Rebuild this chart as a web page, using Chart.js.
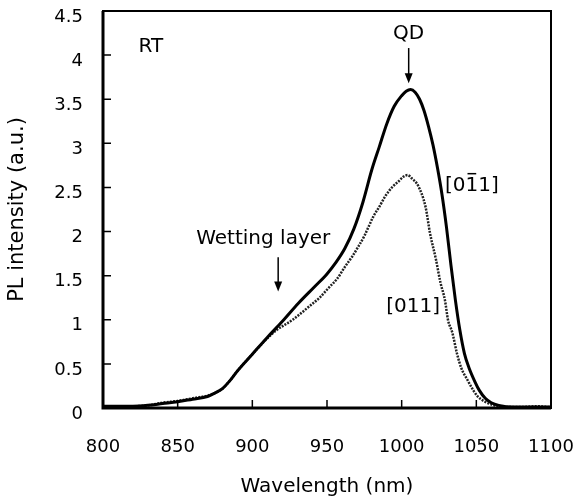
<!DOCTYPE html>
<html>
<head>
<meta charset="utf-8">
<script src="https://cdn.jsdelivr.net/npm/chart.js@4"></script>
<style>
  html, body { margin: 0; padding: 0; background: #fff; }
  #wrap { width: 581px; height: 499px; }
</style>
</head>
<body>
<div id="wrap"><canvas id="plChart"></canvas></div>
<script>
// PL spectra at room temperature, two polarizations
const wlThick = [800, 810, 820, 830, 840, 850, 860, 870, 875, 880, 885, 890, 900, 910, 920, 931, 942, 950, 956, 962, 968, 974, 980, 985, 990, 995, 1000, 1003, 1006, 1009, 1012, 1015, 1018, 1021, 1024, 1027, 1030, 1033, 1036, 1039, 1042, 1045, 1049, 1052, 1056, 1060, 1065, 1075, 1090, 1100];
const plThick = [0.02, 0.02, 0.02, 0.03, 0.05, 0.07, 0.10, 0.13, 0.17, 0.22, 0.31, 0.42, 0.61, 0.80, 0.98, 1.19, 1.38, 1.52, 1.65, 1.81, 2.03, 2.33, 2.70, 2.96, 3.22, 3.42, 3.54, 3.59, 3.61, 3.58, 3.50, 3.37, 3.19, 2.98, 2.72, 2.42, 2.05, 1.62, 1.22, 0.88, 0.62, 0.46, 0.30, 0.20, 0.11, 0.06, 0.03, 0.01, 0.01, 0.01];

const wlThin = [800, 810, 820, 830, 840, 850, 860, 870, 875, 880, 885, 890, 900, 910, 916, 927, 938, 945, 951, 957, 962, 967, 971, 975, 978, 981, 985, 989, 994, 998, 1001, 1004, 1007, 1011, 1016, 1019, 1023, 1026, 1029, 1031, 1034, 1037, 1040, 1044, 1048, 1051, 1056, 1062, 1070, 1080, 1090, 1100];
const plThin = [0.02, 0.02, 0.02, 0.03, 0.06, 0.08, 0.11, 0.14, 0.17, 0.22, 0.31, 0.42, 0.61, 0.79, 0.88, 1.00, 1.15, 1.25, 1.36, 1.47, 1.60, 1.72, 1.83, 1.95, 2.06, 2.17, 2.28, 2.40, 2.51, 2.57, 2.62, 2.64, 2.60, 2.52, 2.28, 1.98, 1.68, 1.42, 1.22, 1.00, 0.85, 0.62, 0.45, 0.32, 0.20, 0.13, 0.07, 0.03, 0.01, 0.01, 0.02, 0.01];

const xTicks = [800, 850, 900, 950, 1000, 1050, 1100];
const yTicks = [0, 0.5, 1, 1.5, 2, 2.5, 3, 3.5, 4, 4.5];

const FONT = "'DejaVu Sans', sans-serif";

// frame, inward ticks, labels and arrows
const decorPlugin = {
    id: "decor",
    afterDatasetsDraw(chart) {
        const { ctx, chartArea: a, scales } = chart;
        const xs = scales.x, ys = scales.y;
        ctx.save();
        ctx.strokeStyle = "#000";
        ctx.lineWidth = 2;
        ctx.strokeRect(a.left, a.top, a.right - a.left, a.bottom - a.top);
        ctx.lineWidth = 3;
        ctx.beginPath();
        ctx.moveTo(a.left, a.top);
        ctx.lineTo(a.left, a.bottom);
        ctx.lineTo(a.right, a.bottom);
        ctx.stroke();

        ctx.lineWidth = 1.5;
        ctx.beginPath();
        xTicks.slice(1, -1).forEach((v) => {
            const px = xs.getPixelForValue(v);
            ctx.moveTo(px, a.bottom);
            ctx.lineTo(px, a.bottom - 8);
        });
        yTicks.slice(1, -1).forEach((v) => {
            const py = ys.getPixelForValue(v);
            ctx.moveTo(a.left, py);
            ctx.lineTo(a.left + 8, py);
        });
        ctx.stroke();

        ctx.fillStyle = "#000";
        ctx.font = "20px " + FONT;
        ctx.textAlign = "center";
        ctx.textBaseline = "middle";
        const at = (nm, v) => [xs.getPixelForValue(nm), ys.getPixelForValue(v)];

        let p = at(832, 4.09);
        ctx.fillText("RT", p[0], p[1]);
        p = at(1004.7, 4.24);
        ctx.fillText("QD", p[0], p[1]);
        p = at(907.3, 1.92);
        ctx.fillText("Wetting layer", p[0], p[1]);
        p = at(1007.7, 1.15);
        ctx.fillText("[011]", p[0], p[1]);

        // [0 1bar 1]
        p = at(1047, 2.52);
        const s = "[011]";
        const w = ctx.measureText(s).width;
        ctx.fillText(s, p[0], p[1]);
        const x0 = p[0] - w / 2 + ctx.measureText("[0").width;
        const x1 = p[0] - w / 2 + ctx.measureText("[01").width;
        ctx.lineWidth = 1.5;
        ctx.beginPath();
        ctx.moveTo(x0 + 2, p[1] - 12);
        ctx.lineTo(x1 - 2, p[1] - 12);
        ctx.stroke();

        const arrow = (nm, v0, v1) => {
            const [ax, ay0] = at(nm, v0);
            const ay1 = ys.getPixelForValue(v1);
            ctx.lineWidth = 1.5;
            ctx.beginPath();
            ctx.moveTo(ax, ay0);
            ctx.lineTo(ax, ay1 - 8);
            ctx.stroke();
            ctx.beginPath();
            ctx.moveTo(ax - 4, ay1 - 10);
            ctx.lineTo(ax + 4, ay1 - 10);
            ctx.lineTo(ax, ay1);
            ctx.closePath();
            ctx.fill();
        };
        arrow(1004.7, 4.08, 3.68);
        arrow(917.3, 1.71, 1.32);
        ctx.restore();
    },
};

const noPad = (axis) => {
    axis.paddingTop = 0;
    axis.paddingBottom = 0;
    axis.paddingLeft = 0;
    axis.paddingRight = 0;
};

const ctx = document.getElementById("plChart").getContext("2d");
new Chart(ctx, {
    type: "line",
    data: {
        datasets: [
            {
                label: "[0-11]",
                data: wlThick.map((x, i) => ({ x: x, y: plThick[i] })),
                borderColor: "#000",
                borderWidth: 3,
                pointRadius: 0,
                cubicInterpolationMode: "monotone",
            },
            {
                label: "[011]",
                data: wlThin.map((x, i) => ({ x: x, y: plThin[i] })),
                borderColor: "#222",
                borderWidth: 2.5,
                borderDash: [2, 1.2],
                pointRadius: 0,
                cubicInterpolationMode: "monotone",
            },
        ],
    },
    plugins: [decorPlugin],
    options: {
        responsive: true,
        maintainAspectRatio: false,
        animation: false,
        layout: { padding: { left: 0, top: 11, right: 30, bottom: 0 } },
        plugins: { legend: { display: false }, tooltip: { enabled: false } },
        scales: {
            x: {
                type: "linear",
                min: 800,
                max: 1100,
                afterBuildTicks: (axis) => { axis.ticks = xTicks.map((v) => ({ value: v })); },
                afterFit: (axis) => { axis.height = 91; noPad(axis); },
                grid: { display: false, drawTicks: false },
                border: { display: false },
                ticks: {
                    color: "#000",
                    padding: 29,
                    maxRotation: 0,
                    font: { family: FONT, size: 18 },
                    callback: (v) => String(v),
                },
                title: {
                    display: true,
                    text: "Wavelength (nm)",
                    color: "#000",
                    font: { family: FONT, size: 20 },
                    padding: { top: 3, bottom: 0 },
                },
            },
            y: {
                min: 0,
                max: 4.5,
                afterBuildTicks: (axis) => { axis.ticks = yTicks.map((v) => ({ value: v })); },
                afterFit: (axis) => { axis.width = 103; noPad(axis); },
                grid: { display: false, drawTicks: false },
                border: { display: false },
                ticks: {
                    color: "#000",
                    padding: 20,
                    labelOffset: 6,
                    font: { family: FONT, size: 18 },
                    callback: (v) => String(v),
                },
                title: {
                    display: true,
                    text: "PL intensity (a.u.)",
                    color: "#000",
                    font: { family: FONT, size: 21 },
                    padding: { top: 5, bottom: 0 },
                },
            },
        },
    },
});
</script>
</body>
</html>
